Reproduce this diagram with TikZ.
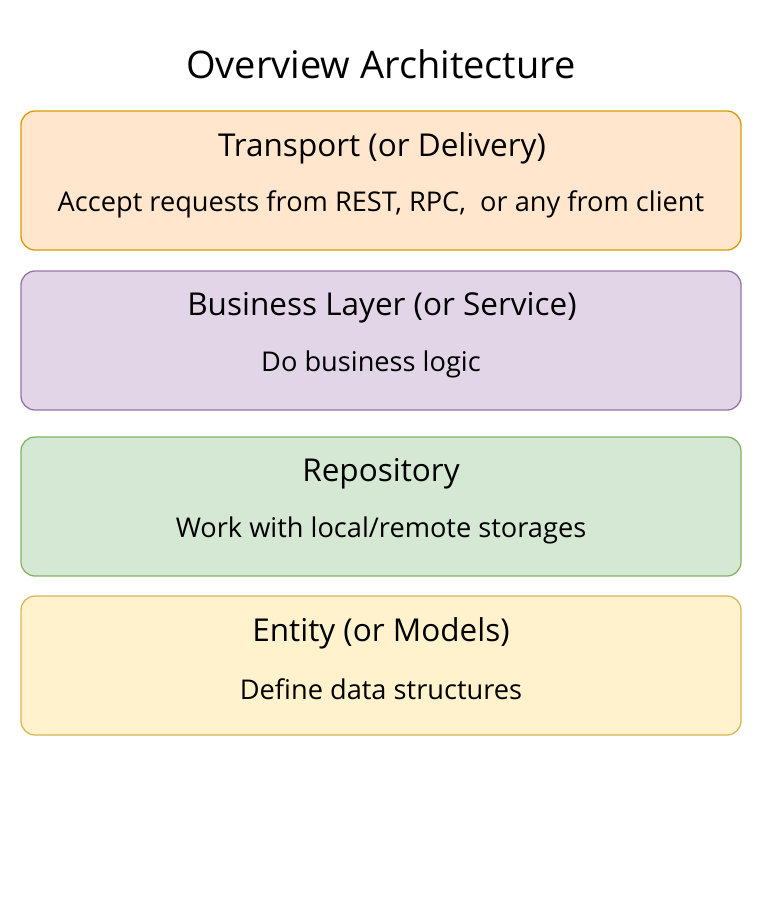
\documentclass[tikz,border=0pt]{standalone}
\usepackage{fontspec}
\setmainfont{Open Sans}
\definecolor{orfill}{HTML}{FFE6CC}\definecolor{ordraw}{HTML}{D79B00}
\definecolor{pufill}{HTML}{E1D5E7}\definecolor{pudraw}{HTML}{9673A6}
\definecolor{grfill}{HTML}{D5E8D4}\definecolor{grdraw}{HTML}{82B366}
\definecolor{yefill}{HTML}{FFF2CC}\definecolor{yedraw}{HTML}{D6B656}
\begin{document}
\begin{tikzpicture}[x=1pt,y=-1pt,
  layer/.style={draw=#1draw,fill=#1fill,line width=1.3pt,rounded corners=14pt},
  headtext/.style={font=\fontsize{31.5}{36}\selectfont},
  subtext/.style={font=\fontsize{27.2}{31}\selectfont},
  titletext/.style={font=\fontsize{38}{44}\selectfont}]
\useasboundingbox (0,0) rectangle (762,911);
\node[titletext] (title) at (381,64) {Overview Architecture};
\draw[layer=or] (21,111) rectangle (741,250);
\draw[layer=pu] (21,271) rectangle (741,410);
\draw[layer=gr] (21,437) rectangle (741,576);
\draw[layer=ye] (21,596) rectangle (741,735);
\node[headtext] (t1) at (382,148) {Transport (or Delivery)};
\node[subtext] (s1) at (381,204) {Accept requests from REST, RPC,\ \ or any from client};
\node[headtext] (t2) at (382,308) {Business Layer (or Service)};
\node[subtext] (s2) at (371,364) {Do business logic};
\node[headtext] (t3) at (381,474) {Repository};
\node[subtext] (s3) at (381,530) {Work with local/remote storages};
\node[headtext] (t4) at (381,633) {Entity (or Models)};
\node[subtext] (s4) at (381,689) {Define data structures};
\end{tikzpicture}
\end{document}
